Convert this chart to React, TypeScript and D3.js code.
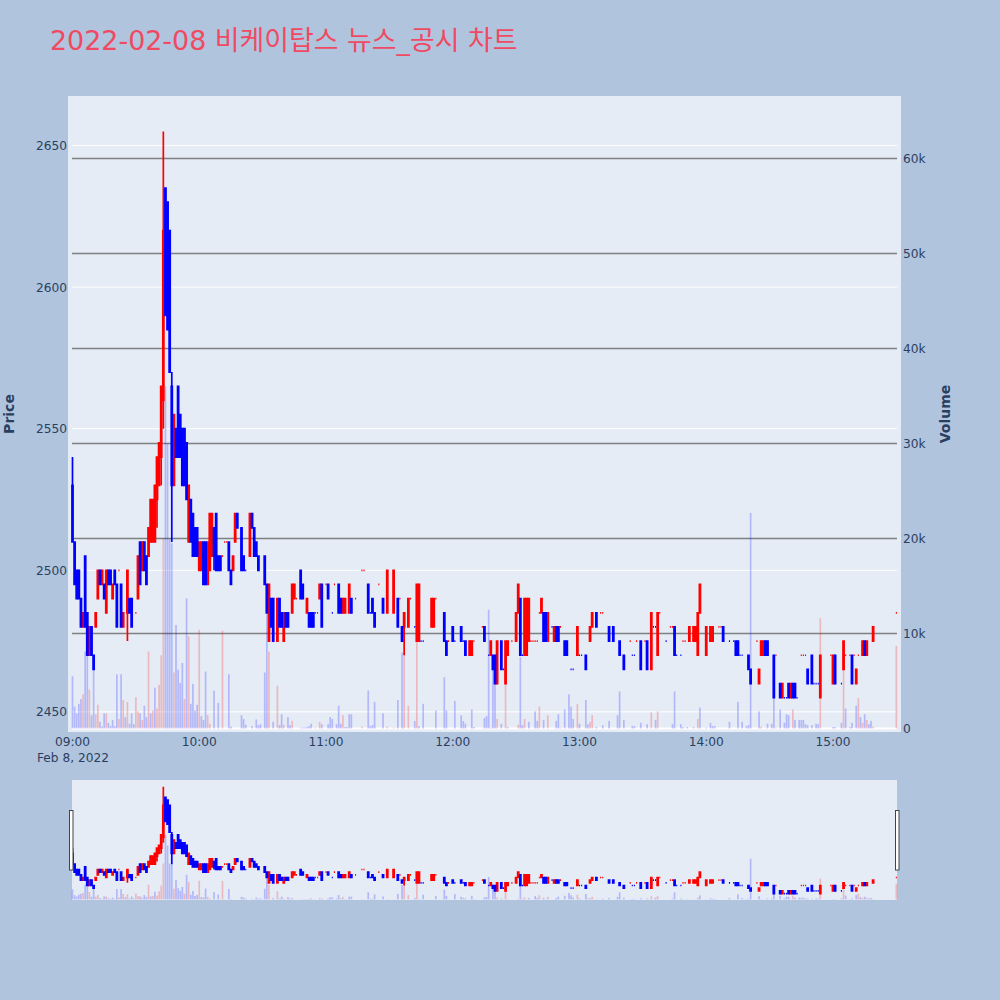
import React from "react";
import * as d3 from "d3";

const titleText = "2022-02-08 비케이탑스 뉴스_공시 차트";
const priceTicks = [2450, 2500, 2550, 2600, 2650];
const volumeTicks = [0, 10000, 20000, 30000, 40000, 50000, 60000];
const volumeTickLabels = ["0", "10k", "20k", "30k", "40k", "50k", "60k"];
const timeTicks = [0, 60, 120, 180, 240, 300, 360];
const timeLabels = ["09:00", "10:00", "11:00", "12:00", "13:00", "14:00", "15:00"];

// [minute after 09:00, open, high, low, close]
const redCandles = [
  [5,2480,2485,2480,2485],[8,2470,2480,2470,2480],[11,2480,2485,2480,2485],[12,2490,2500,2490,2500],[14,2495,2500,2495,2500],
  [16,2485,2500,2485,2500],[19,2490,2495,2490,2495],[22,2500,2500,2500,2500],[24,2480,2485,2480,2485],[26,2485,2500,2475,2500],
  [30,2485,2485,2485,2485],[31,2490,2505,2490,2505],[33,2500,2510,2500,2510],[36,2505,2515,2505,2515],[37,2510,2525,2510,2525],
  [38,2510,2525,2510,2525],[39,2510,2530,2510,2530],[40,2525,2540,2515,2540],[41,2530,2545,2530,2545],[42,2540,2565,2530,2565],
  [43,2560,2655,2550,2620],[48,2530,2555,2530,2555],[55,2510,2530,2510,2530],[60,2500,2510,2500,2510],[61,2500,2510,2500,2510],
  [64,2495,2510,2495,2510],[65,2500,2520,2500,2520],[66,2505,2520,2505,2520],[71,2505,2505,2505,2505],[72,2510,2510,2510,2510],
  [73,2510,2510,2510,2510],[76,2500,2505,2500,2505],[77,2510,2520,2510,2520],[84,2505,2520,2505,2520],[93,2475,2495,2475,2495],
  [97,2475,2490,2475,2490],[100,2475,2485,2475,2485],[104,2485,2495,2485,2495],[105,2490,2495,2490,2495],[106,2490,2490,2490,2490],
  [111,2485,2490,2485,2490],[115,2485,2485,2485,2485],[116,2485,2485,2485,2485],[117,2490,2495,2490,2495],[120,2495,2495,2495,2495],
  [124,2495,2495,2495,2495],[128,2485,2490,2485,2490],[129,2485,2490,2485,2490],[131,2485,2495,2485,2495],[134,2490,2490,2490,2490],
  [137,2500,2500,2500,2500],[138,2500,2500,2500,2500],[145,2495,2495,2495,2495],[149,2485,2500,2485,2500],[152,2485,2500,2485,2500],
  [155,2490,2490,2490,2490],[157,2480,2485,2470,2485],[159,2480,2490,2480,2490],[160,2490,2490,2490,2490],[163,2475,2495,2475,2495],
  [164,2475,2495,2475,2495],[170,2480,2490,2480,2490],[171,2480,2490,2480,2490],[172,2490,2490,2490,2490],[178,2475,2475,2475,2475],
  [188,2470,2475,2470,2475],[189,2470,2475,2470,2475],[190,2475,2475,2475,2475],[194,2480,2480,2480,2480],[198,2470,2475,2470,2475],
  [201,2460,2475,2460,2475],[205,2460,2475,2460,2475],[206,2470,2475,2470,2475],[208,2475,2475,2475,2475],[210,2475,2485,2475,2485],
  [211,2485,2495,2485,2495],[214,2470,2490,2470,2490],[215,2470,2490,2470,2490],[216,2475,2490,2475,2490],[217,2475,2475,2475,2475],
  [218,2475,2475,2475,2475],[219,2475,2475,2475,2475],[220,2475,2475,2475,2475],[221,2485,2485,2485,2485],[222,2485,2490,2485,2490],
  [225,2475,2485,2475,2485],[228,2475,2480,2475,2480],[231,2480,2480,2480,2480],[239,2470,2480,2470,2480],[245,2475,2480,2475,2480],
  [246,2480,2485,2480,2485],[250,2485,2485,2485,2485],[251,2485,2485,2485,2485],[264,2475,2475,2475,2475],[267,2475,2475,2475,2475],
  [271,2475,2475,2475,2475],[274,2465,2485,2465,2485],[277,2470,2485,2470,2485],[278,2485,2485,2485,2485],[283,2480,2480,2480,2480],
  [284,2480,2480,2480,2480],[289,2475,2475,2475,2475],[290,2475,2475,2475,2475],[292,2475,2480,2475,2480],[294,2475,2480,2475,2480],
  [295,2475,2480,2475,2480],[296,2470,2485,2470,2485],[297,2485,2495,2485,2495],[300,2470,2480,2470,2480],[302,2475,2480,2475,2480],
  [303,2475,2480,2475,2480],[306,2480,2480,2480,2480],[307,2480,2480,2480,2480],[324,2475,2475,2475,2475],[325,2460,2465,2460,2465],
  [326,2470,2475,2470,2475],[327,2470,2475,2470,2475],[333,2470,2470,2470,2470],[336,2455,2460,2455,2460],[340,2455,2460,2455,2460],
  [345,2470,2470,2470,2470],[346,2470,2470,2470,2470],[347,2470,2470,2470,2470],[354,2455,2470,2455,2470],[359,2470,2470,2470,2470],
  [360,2460,2470,2460,2470],[365,2465,2475,2465,2475],[366,2470,2470,2470,2470],[368,2470,2470,2470,2470],[370,2470,2470,2470,2470],
  [371,2460,2465,2460,2465],[372,2470,2470,2470,2470],[374,2470,2475,2470,2475],[376,2470,2475,2470,2475],[379,2475,2480,2475,2480],
  [390,2485,2485,2485,2485],
];

const blueCandles = [
  [0,2530,2540,2510,2510],[1,2510,2510,2495,2495],[2,2500,2500,2490,2490],[3,2500,2500,2490,2490],[4,2490,2490,2480,2480],
  [6,2505,2505,2480,2480],[7,2485,2485,2470,2470],[9,2480,2480,2470,2470],[10,2470,2470,2465,2465],[13,2500,2500,2495,2495],
  [15,2495,2495,2490,2490],[17,2500,2500,2495,2495],[18,2500,2500,2495,2495],[20,2500,2500,2495,2495],[21,2495,2495,2480,2480],
  [23,2495,2495,2480,2480],[27,2490,2490,2485,2485],[28,2490,2490,2480,2480],[32,2510,2510,2495,2495],[34,2510,2510,2500,2500],
  [35,2505,2505,2495,2495],[44,2635,2635,2590,2590],[45,2630,2630,2585,2585],[46,2620,2620,2570,2570],[47,2565,2570,2510,2530],
  [49,2550,2550,2540,2540],[50,2565,2565,2540,2540],[51,2555,2555,2540,2540],[52,2550,2550,2530,2530],[53,2550,2550,2530,2530],
  [54,2545,2545,2525,2525],[56,2525,2525,2510,2510],[57,2520,2520,2505,2505],[58,2515,2515,2505,2505],[59,2515,2515,2505,2505],
  [62,2510,2510,2495,2495],[63,2510,2510,2495,2495],[67,2515,2515,2500,2505],[68,2520,2520,2500,2500],[69,2505,2505,2500,2500],
  [70,2505,2505,2500,2500],[74,2510,2510,2500,2500],[75,2500,2500,2495,2495],[78,2520,2520,2515,2515],[80,2515,2515,2500,2500],
  [81,2505,2505,2500,2500],[82,2500,2500,2500,2500],[85,2520,2520,2515,2515],[86,2515,2515,2505,2505],[87,2510,2510,2505,2505],
  [88,2505,2505,2500,2500],[91,2505,2505,2495,2495],[92,2495,2495,2485,2485],[94,2490,2490,2480,2480],[95,2490,2490,2475,2475],
  [98,2490,2490,2480,2480],[99,2485,2485,2480,2480],[101,2485,2485,2480,2480],[102,2485,2485,2480,2480],[108,2500,2500,2490,2490],
  [109,2495,2495,2490,2490],[112,2485,2485,2480,2480],[113,2485,2485,2480,2480],[114,2485,2485,2480,2480],[118,2495,2495,2480,2480],
  [121,2495,2495,2490,2490],[123,2485,2485,2485,2485],[126,2495,2495,2485,2485],[127,2490,2490,2485,2485],[132,2490,2490,2485,2485],
  [140,2495,2495,2485,2485],[141,2485,2485,2485,2485],[142,2490,2490,2485,2485],[143,2485,2485,2480,2480],[147,2490,2490,2485,2485],
  [154,2490,2490,2480,2480],[156,2480,2480,2475,2475],[162,2480,2480,2480,2480],[165,2475,2475,2475,2475],[166,2475,2475,2475,2475],
  [176,2485,2485,2475,2475],[177,2475,2475,2470,2470],[180,2480,2480,2475,2475],[181,2475,2475,2475,2475],[184,2480,2480,2475,2475],
  [185,2475,2475,2475,2475],[186,2475,2475,2470,2470],[195,2480,2480,2475,2475],[197,2470,2470,2470,2470],[199,2470,2470,2465,2465],
  [200,2470,2470,2460,2460],[203,2475,2475,2465,2465],[204,2465,2465,2465,2465],[212,2490,2490,2470,2470],[213,2470,2470,2470,2470],
  [223,2485,2485,2475,2475],[224,2485,2485,2475,2475],[227,2480,2480,2480,2480],[229,2480,2480,2475,2475],[230,2480,2480,2475,2475],
  [233,2475,2475,2470,2470],[234,2475,2475,2470,2470],[236,2465,2465,2465,2465],[237,2465,2465,2465,2465],[240,2470,2470,2470,2470],
  [241,2470,2470,2470,2470],[243,2470,2470,2465,2465],[248,2485,2485,2480,2480],[254,2480,2480,2475,2475],[256,2480,2480,2475,2475],
  [259,2475,2475,2470,2470],[261,2470,2470,2465,2465],[265,2470,2470,2470,2470],[266,2470,2470,2470,2470],[269,2475,2475,2465,2465],
  [272,2475,2475,2465,2465],[275,2480,2480,2480,2480],[276,2480,2480,2480,2480],[281,2475,2475,2475,2475],[285,2480,2480,2470,2470],
  [286,2470,2470,2470,2470],[288,2470,2470,2470,2470],[308,2480,2480,2475,2475],[311,2475,2475,2475,2475],[313,2475,2475,2475,2475],
  [314,2475,2475,2470,2470],[315,2475,2475,2470,2470],[316,2470,2470,2470,2470],[317,2470,2470,2470,2470],[320,2470,2470,2465,2465],
  [321,2465,2465,2460,2460],[328,2475,2475,2470,2470],[329,2475,2475,2470,2470],[332,2470,2470,2455,2455],[335,2460,2460,2455,2455],
  [337,2455,2455,2455,2455],[338,2455,2455,2455,2455],[339,2460,2460,2455,2455],[341,2460,2460,2455,2455],[342,2460,2460,2455,2455],
  [343,2455,2455,2455,2455],[348,2465,2465,2460,2460],[350,2470,2470,2460,2460],[351,2460,2460,2460,2460],[352,2460,2460,2460,2460],
  [353,2460,2460,2460,2460],[361,2470,2470,2460,2460],[364,2460,2460,2460,2460],[369,2470,2470,2460,2460],[375,2475,2475,2470,2470],
];

// [minute after 09:00, traded volume]
const redVolumes = [
  [5,3600],[8,4100],[11,1500],[12,2500],[16,1600],[22,1000],[24,3000],[26,2800],[30,3300],[31,1800],[33,900],[36,8100],[38,1900],
  [40,2100],[41,4600],[42,7700],[43,20000],[48,5900],[53,3100],[55,9700],[60,10400],[64,1400],[65,500],[71,10300],[93,8100],[97,4500],
  [100,400],[104,800],[115,100],[117,700],[128,1400],[137,200],[149,200],[152,100],[157,8000],[159,2400],[163,9100],[198,100],[201,1000],
  [205,4700],[211,400],[214,1000],[221,2300],[225,1400],[231,100],[239,2600],[245,700],[246,1400],[274,1700],[277,1800],[296,1000],
  [326,200],[333,100],[341,2000],[354,11600],[365,9100],[372,3200],[374,600],[376,900],[379,200],[390,8700],
];

const blueVolumes = [
  [0,5500],[1,2300],[2,1600],[3,2600],[4,3100],[6,8100],[7,9600],[9,1400],[10,6300],[13,700],[14,200],[15,1600],[17,600],[18,250],[19,900],
  [20,250],[21,5700],[23,5700],[25,1200],[27,500],[28,1600],[29,450],[32,1600],[34,2400],[35,1200],[37,1600],[39,4300],[44,36000],[45,30000],
  [46,20000],[47,19500],[49,10900],[50,6200],[51,4800],[52,6900],[54,13700],[56,2600],[57,4700],[58,1900],[59,2500],[61,1300],[62,900],[63,6000],
  [67,4000],[69,2700],[74,5700],[75,200],[80,1400],[81,1000],[82,400],[85,250],[87,950],[88,350],[89,450],[91,5900],[92,12000],[95,700],[98,350],
  [99,1500],[102,1200],[103,350],[108,100],[109,100],[110,100],[111,150],[112,250],[113,500],[118,450],[121,450],[122,1200],[123,1000],[125,450],
  [126,2400],[127,500],[129,150],[130,150],[131,1500],[132,1500],[140,4000],[141,250],[142,350],[143,2800],[147,1600],[154,3000],[156,8000],[162,800],
  [164,250],[166,2600],[172,1900],[176,5400],[177,1900],[181,2900],[184,1400],[185,800],[186,500],[189,2000],[190,150],[195,1100],[196,1300],[197,12500],
  [199,7500],[200,4700],[203,500],[206,150],[212,7500],[213,350],[216,700],[219,1800],[220,800],[223,900],[229,800],[230,1500],[233,2000],[235,3600],
  [236,2300],[237,1000],[240,500],[243,3000],[244,450],[248,150],[251,350],[254,800],[258,1400],[259,3900],[261,900],[265,250],[266,250],[269,600],
  [272,450],[276,900],[284,450],[285,3900],[288,450],[289,150],[291,150],[294,150],[297,2200],[300,100],[302,600],[303,250],[304,250],[311,700],
  [315,2800],[317,700],[319,250],[320,350],[321,22700],[325,1800],[329,500],[331,500],[332,3300],[335,2000],[337,600],[338,1500],[339,1400],[342,900],
  [344,900],[345,900],[346,900],[347,450],[348,350],[350,350],[352,500],[353,450],[360,150],[361,150],[364,600],[366,2100],[368,150],[369,600],[371,2400],
  [373,1200],[375,1500],[377,450],[378,800],
];

const RED = "#ff0000";
const BLUE = "#0000ff";
const PAGE = "#b0c4de";
const PLOT = "#e5ecf6";
const INK = "#2a3f5f";
const FONT = "'DejaVu Sans', 'Noto Sans CJK KR', sans-serif";

const plot = { left: 68, right: 901, top: 96, bottom: 732 };
const slider = { left: 72, right: 897, top: 780, bottom: 900 };

const x = d3.scaleLinear().domain([0, 390.3]).range([72.5, 897]);
const priceMain = d3.scaleLinear().domain([2442.9, 2667.5]).range([732, 96]);
const volumeMain = d3.scaleLinear().domain([-368, 66580]).range([732, 96]);
const priceMini = d3.scaleLinear().domain(priceMain.domain()).range([900, 780]);
const volumeMini = d3.scaleLinear().domain(volumeMain.domain()).range([900, 780]);

function candlePath(row: number[], py: (v: number) => number) {
  const [m, o, h, l, c] = row;
  const cx = x(m);
  const x0 = cx - 0.55;
  const x1 = cx + 0.55;
  const top = Math.max(o, c);
  const bottom = Math.min(o, c);
  return `M${x0},${py(o)}H${x1}V${py(c)}H${x0}ZM${cx},${py(top)}V${py(h)}M${cx},${py(bottom)}V${py(l)}`;
}

function Marks({ py, vy }: { py: d3.ScaleLinear<number, number>; vy: d3.ScaleLinear<number, number> }) {
  const base = vy(0);
  return (
    <g>
      {[[redVolumes, RED], [blueVolumes, BLUE]].map(([rows, col]: any) =>
        rows.map((r: number[]) => (
          <rect key={`${col}${r[0]}`} x={x(r[0]) - 0.85} width={1.7} y={vy(r[1])} height={base - vy(r[1])} fill={col} opacity={0.22} />
        ))
      )}
      {[[redCandles, RED], [blueCandles, BLUE]].map(([rows, col]: any) =>
        rows.map((r: number[]) => (
          <path key={`c${col}${r[0]}`} d={candlePath(r, py)} fill={col} stroke={col} strokeWidth={1.7} />
        ))
      )}
    </g>
  );
}

export default function App() {
  const tickStyle = { fontFamily: FONT, fontSize: 12.2, fill: INK };
  return (
    <svg width={1000} height={1000} style={{ position: "absolute", left: 0, top: 0, display: "block" }}>
      <rect width={1000} height={1000} fill={PAGE} />
      <text x={50} y={50} fontFamily={FONT} fontSize={26.9} fill="#ef4a62">{titleText}</text>

      <rect x={plot.left} y={plot.top} width={plot.right - plot.left} height={plot.bottom - plot.top} fill={PLOT} />
      {priceTicks.map((t) => (
        <line key={t} x1={72} x2={897} y1={priceMain(t)} y2={priceMain(t)} stroke="#fff" strokeWidth={1} />
      ))}
      <line x1={72} x2={897} y1={volumeMain(0)} y2={volumeMain(0)} stroke="#fff" strokeWidth={2} />
      {volumeTicks.slice(1).map((t) => (
        <line key={t} x1={72} x2={897} y1={volumeMain(t)} y2={volumeMain(t)} stroke="#808080" strokeWidth={1.4} />
      ))}
      <Marks py={priceMain} vy={volumeMain} />

      {priceTicks.map((t) => (
        <text key={t} x={67} y={priceMain(t) + 4.5} textAnchor="end" {...tickStyle}>{t}</text>
      ))}
      {volumeTicks.map((t, i) => (
        <text key={t} x={903} y={volumeMain(t) + 4.5} {...tickStyle}>{volumeTickLabels[i]}</text>
      ))}
      {timeTicks.map((t, i) => (
        <text key={t} x={x(t)} y={746} textAnchor="middle" {...tickStyle}>{timeLabels[i]}</text>
      ))}
      <text x={73} y={762} textAnchor="middle" {...tickStyle}>Feb 8, 2022</text>

      <text transform="translate(14,414) rotate(-90)" textAnchor="middle" fontFamily={FONT} fontSize={14} fontWeight="bold" fill={INK}>Price</text>
      <text transform="translate(950,414) rotate(-90)" textAnchor="middle" fontFamily={FONT} fontSize={14} fontWeight="bold" fill={INK}>Volume</text>

      <rect x={slider.left} y={slider.top} width={slider.right - slider.left} height={slider.bottom - slider.top} fill={PLOT} />
      <Marks py={priceMini} vy={volumeMini} />
      <rect x={69.5} y={810.5} width={3.5} height={59.5} fill="#fff" stroke="#444" strokeWidth={1} />
      <rect x={895.5} y={810.5} width={3.5} height={59.5} fill="#fff" stroke="#444" strokeWidth={1} />
    </svg>
  );
}
